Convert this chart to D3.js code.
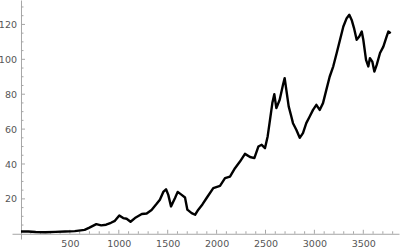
<!DOCTYPE html>
<html>
<head>
<meta charset="utf-8">
<script src="https://cdn.jsdelivr.net/npm/d3@7"></script>
<style>
  body { margin: 0; background: #fff; }
  svg { display: block; }
  .tick text { font-family: "DejaVu Sans", sans-serif; font-size: 9.5px; fill: #555; }
</style>
</head>
<body>
<div id="chart"></div>
<script>
// day index and value
const days = [0, 75, 150, 250, 350, 450, 550, 650, 700, 770, 820, 870, 920, 960, 1005, 1045, 1080, 1120, 1165,
    1235, 1285, 1335, 1385, 1420, 1455, 1483, 1506, 1534, 1575, 1602, 1643, 1677, 1701, 1745, 1780, 1813, 1855,
    1898, 1966, 2035, 2086, 2137, 2188, 2239, 2290, 2342, 2386, 2427, 2461, 2495, 2522, 2546, 2570, 2590, 2611,
    2645, 2679, 2696, 2713, 2737, 2764, 2781, 2815, 2850, 2883, 2917, 2952, 2986, 3020, 3054, 3088, 3122, 3156,
    3193, 3228, 3262, 3296, 3330, 3357, 3381, 3405, 3432, 3459, 3484, 3500, 3528, 3551, 3568, 3592, 3613, 3637,
    3671, 3705, 3739, 3756, 3780];
const prices = [1.3, 1.3, 1.0, 0.9, 1.1, 1.3, 1.5, 2.2, 3.5, 5.5, 4.8, 5.2, 6.3, 7.4, 10.5, 9.0, 8.6, 6.9, 9.0,
    11.3, 11.6, 13.6, 17.0, 19.5, 24.0, 25.5, 22.3, 15.7, 20.5, 24.0, 22.3, 20.8, 13.8, 11.8, 10.9, 13.8, 16.8,
    20.5, 26.2, 27.5, 31.9, 32.8, 37.6, 41.4, 45.8, 44.0, 43.4, 50.0, 51.0, 49.1, 55.8, 65.3, 74.9, 80.0, 72.0,
    76.8, 85.4, 89.2, 82.5, 73.0, 67.2, 63.4, 59.6, 55.0, 57.7, 63.4, 67.2, 71.0, 73.9, 71.0, 74.9, 82.5, 90.0,
    96.0, 103.6, 111.2, 118.8, 123.6, 125.5, 122.6, 117.9, 111.2, 113.1, 115.9, 111.2, 99.7, 95.9, 100.7, 98.7, 93.0, 96.8,
    103.6, 107.3, 113.1, 115.9, 115.0];
const xTicks = [500, 1000, 1500, 2000, 2500, 3000, 3500];
const yTicks = [20, 40, 60, 80, 100, 120];

const width = 400;
const height = 251;

const svg = d3.select("#chart")
    .append("svg")
    .attr("width", width)
    .attr("height", height);

const x = d3.scaleLinear().domain([-92, 3865]).range([12, 399]);
const y = d3.scaleLinear().domain([-3, 134]).range([239, 0]);

//minor ticks
const xMinor = d3.range(100, 3900, 100).filter(d => d % 500 !== 0);
const yMinor = d3.range(5, 135, 5).filter(d => d % 20 !== 0);

const xAxis = svg.append("g")
    .attr("transform", `translate(0,${y(0)})`)
    .call(d3.axisBottom(x).tickValues(xTicks).tickSize(0).tickPadding(6).tickFormat(d3.format("d")));
xAxis.select(".domain").attr("stroke", "#a6a6a6");

const yAxis = svg.append("g")
    .attr("transform", `translate(${x(0)},0)`)
    .call(d3.axisLeft(y).tickValues(yTicks).tickSize(0).tickPadding(4).tickFormat(d3.format("d")));
yAxis.select(".domain").attr("stroke", "#a6a6a6");

//tick marks point inward, like the original
svg.append("g").selectAll("line")
    .data(xTicks.concat(xMinor))
    .join("line")
    .attr("x1", d => x(d)).attr("x2", d => x(d))
    .attr("y1", y(0)).attr("y2", d => y(0) - (d % 500 === 0 ? 4 : 2.5))
    .attr("stroke", "#a6a6a6");

svg.append("g").selectAll("line")
    .data(yTicks.concat(yMinor))
    .join("line")
    .attr("y1", d => y(d)).attr("y2", d => y(d))
    .attr("x1", x(0)).attr("x2", d => x(0) + (d % 20 === 0 ? 4 : 2.5))
    .attr("stroke", "#a6a6a6");

const line = d3.line()
    .x((d, i) => x(days[i]))
    .y(d => y(d));

svg.append("path")
    .datum(prices)
    .attr("d", line)
    .attr("fill", "none")
    .attr("stroke", "#000")
    .attr("stroke-width", 2.4)
    .attr("stroke-linejoin", "round");
</script>
</body>
</html>
